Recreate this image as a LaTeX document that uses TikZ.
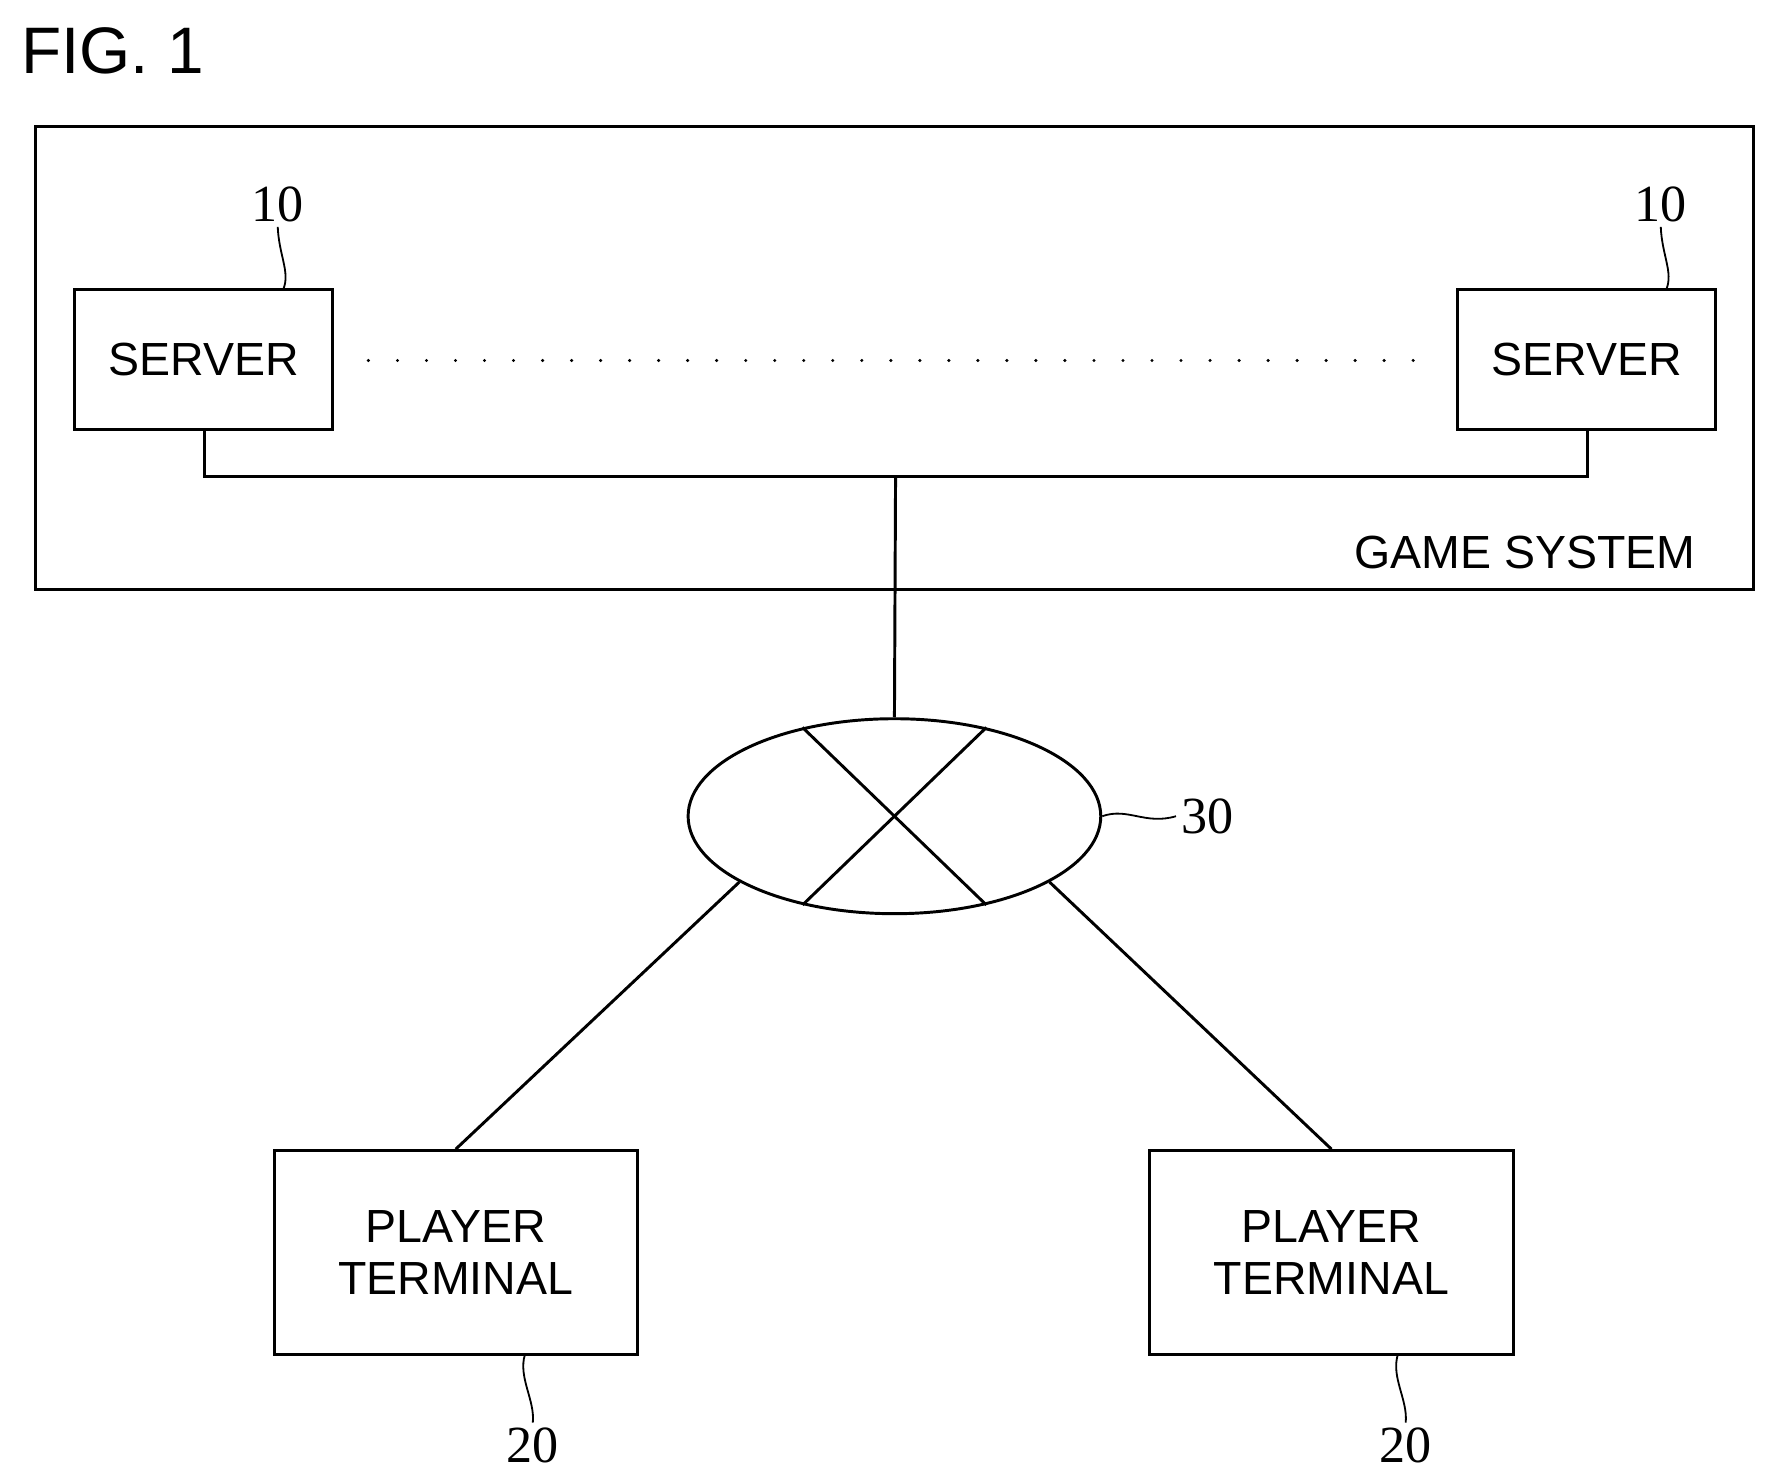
\documentclass[tikz,border=0pt]{standalone}
\usepackage{fontspec}
\setmainfont{Liberation Sans}
\newfontfamily\numfont{Liberation Serif}
\usetikzlibrary{shapes.geometric}
\begin{document}
\begin{tikzpicture}[x=1pt,y=-1pt,line width=2.6pt,
  box/.style={draw,rectangle,inner sep=0pt},
  lbl/.style={font=\fontsize{41}{46}\selectfont,align=center},
  num/.style={font=\numfont\fontsize{46}{50}\selectfont},
  lead/.style={line width=1.6pt}]
\useasboundingbox (0,0) rectangle (1564,1308);
\node[anchor=west,font=\fontsize{58}{60}\selectfont] (fig) at (14,45) {FIG. 1};
\node[box,minimum width=1516pt,minimum height=408pt] (gs) at (789,316) {};
\node[anchor=east,lbl] (gst) at (1500,487) {GAME SYSTEM};
\node[box,minimum width=227pt,minimum height=124pt,lbl] (s1) at (179.5,317) {SERVER};
\node[box,minimum width=227pt,minimum height=124pt,lbl] (s2) at (1399.5,317) {SERVER};
\coordinate (d1) at (325,318); \coordinate (d2) at (1250,318);
\draw[line width=3pt,dash pattern=on 0pt off 25.6pt,line cap=round] (d1) -- (d2);
\coordinate (b1) at (180,420); \coordinate (b2) at (1400,420); \coordinate (bm) at (790,420);
\draw (s1.south -| b1) -- (b1) -- (b2) -- (s2.south -| b2);
\node[draw,ellipse,minimum width=364pt,minimum height=172pt,inner sep=0pt] (net) at (789,720) {};
\draw (bm) -- (net.north);
\draw (net.-136) -- (net.44);
\draw (net.-44) -- (net.136);
\node[box,minimum width=320pt,minimum height=180pt,lbl] (p1) at (402,1105) {PLAYER\\TERMINAL};
\node[box,minimum width=321pt,minimum height=180pt,lbl] (p2) at (1174.5,1105) {PLAYER\\TERMINAL};
\draw (net.-157) -- (p1.north);
\draw (net.-23) -- (p2.north);
\node[num] (n1) at (245,180) {10};
\node[num] (n2) at (1465,180) {10};
\node[num] (n3) at (1065,720) {30};
\node[num] (n4) at (470,1275) {20};
\node[num] (n5) at (1240,1275) {20};
\coordinate (l1) at (250,255); \coordinate (l2) at (1470,255);
\coordinate (l4) at (463,1195); \coordinate (l5) at (1233,1195);
\draw[lead] (l1) .. controls (256,240) and (246,225) .. (n1.south);
\draw[lead] (l2) .. controls (1476,240) and (1466,225) .. (n2.south);
\draw[lead] (net.east) .. controls (995,712) and (1010,728) .. (n3.west);
\draw[lead] (l4) .. controls (457,1215) and (472,1235) .. (n4.north);
\draw[lead] (l5) .. controls (1227,1215) and (1242,1235) .. (n5.north);
\end{tikzpicture}
\end{document}
